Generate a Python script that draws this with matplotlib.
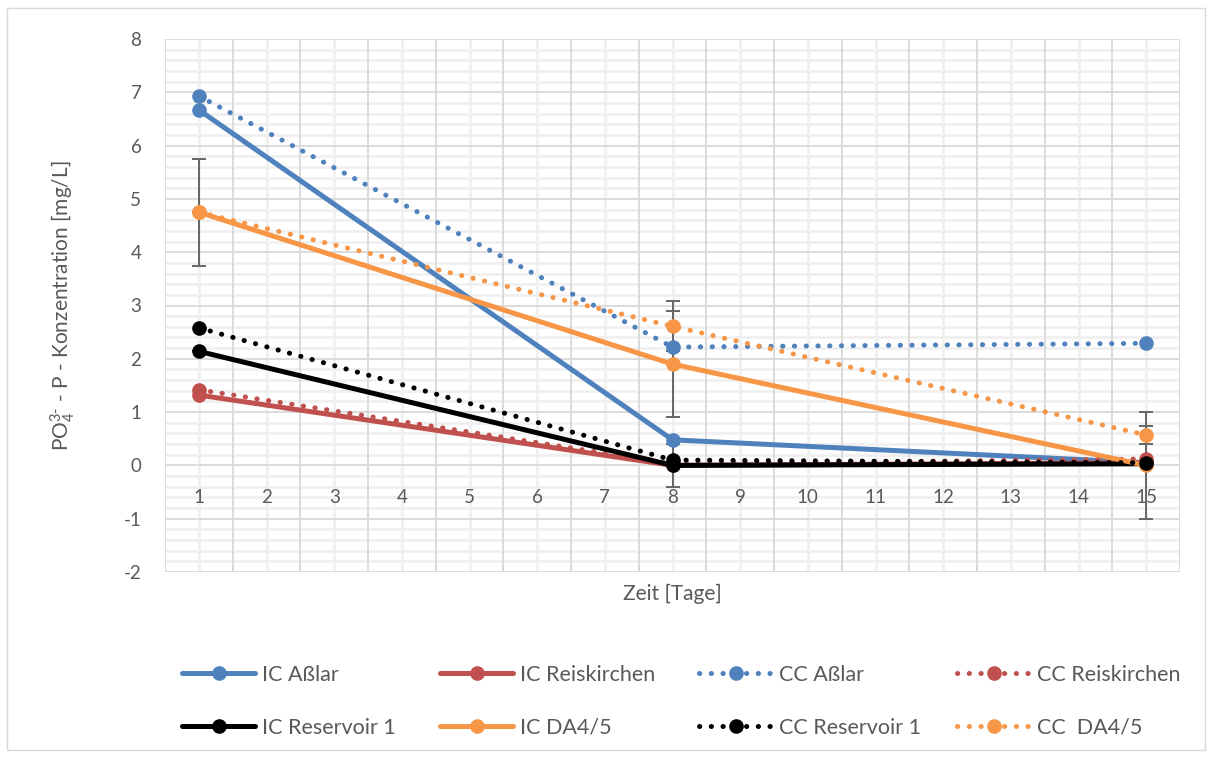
import numpy as np
import matplotlib.pyplot as plt
from matplotlib.patches import Rectangle

plt.rcParams['font.family'] = ['Lato', 'DejaVu Sans']
plt.rcParams['mathtext.fontset'] = 'custom'
plt.rcParams['mathtext.rm'] = 'Lato'
plt.rcParams['axes.unicode_minus'] = False

# sampling days
tage = [1, 8, 15]

# PO4-P concentration per sampling site [mg/L]
ic_asslar = [6.67, 0.48, 0.05]
ic_reiskirchen = [1.32, 0.00, 0.05]
cc_asslar = [6.93, 2.22, 2.29]
cc_reiskirchen = [1.42, 0.03, 0.12]
ic_reservoir = [2.14, 0.00, 0.03]
ic_da45 = [4.75, 1.90, 0.00]
cc_reservoir = [2.58, 0.10, 0.05]
cc_da45 = [4.75, 2.61, 0.57]

# standard deviations (only some series have them)
err_ic_reservoir = [0.0, 0.40, 0.0]
err_ic_da45 = [1.0, 1.0, 1.0]
err_cc_da45 = [0.0, 0.47, 0.17]

BLUE = '#4F81BD'
RED = '#C0504D'
ORANGE = '#F79646'
BLACK = '#000000'
TXT = '#595959'
GRID_MAJ = '#D9D9D9'
GRID_MIN = '#F0F0F0'

DOT = (0, (0.05, 2.3))

series = [
    ('IC Aßlar', ic_asslar, BLUE, '-', None),
    ('IC Reiskirchen', ic_reiskirchen, RED, '-', None),
    ('CC Aßlar', cc_asslar, BLUE, DOT, None),
    ('CC Reiskirchen', cc_reiskirchen, RED, DOT, None),
    ('IC Reservoir 1', ic_reservoir, BLACK, '-', err_ic_reservoir),
    ('IC DA4/5', ic_da45, ORANGE, '-', err_ic_da45),
    ('CC Reservoir 1', cc_reservoir, BLACK, DOT, None),
    ('CC  DA4/5', cc_da45, ORANGE, DOT, err_cc_da45),
]

fig = plt.figure(figsize=(12.12, 7.58), dpi=100)
ax = fig.add_axes([165 / 1212, 1 - 572 / 758, 1015 / 1212, 533 / 758])

ax.set_xlim(0.5, 15.5)
ax.set_ylim(-2, 8)

# gridlines drawn by hand so the tick labels stay on top
for y in np.arange(-2, 8.01, 0.2):
    if abs(y - round(y)) > 1e-6:
        ax.axhline(y, color=GRID_MIN, linewidth=2.0, zorder=0)
for x in range(1, 16):
    ax.axvline(x, color=GRID_MIN, linewidth=2.0, zorder=0)
for y in range(-2, 9):
    ax.axhline(y, color=GRID_MAJ, linewidth=1.3, zorder=0.5)
for x in np.arange(0.5, 15.6, 1):
    ax.axvline(x, color=GRID_MAJ, linewidth=1.3, zorder=0.5)

handles = []
for name, vals, col, ls, err in series:
    if err is not None:
        ax.errorbar(tage, vals, yerr=err, fmt='none', ecolor='#666666',
                    elinewidth=1.4, capsize=5, capthick=1.4, zorder=2)
    ln, = ax.plot(tage, vals, color=col, linestyle=ls, linewidth=3.6,
                  marker='o', markersize=9.5, dash_capstyle='round',
                  solid_capstyle='round', label=name, zorder=3)
    handles.append(ln)

ax.set_xticks(range(1, 16))
ax.set_yticks(range(-2, 9))

for s in ['top', 'right', 'left', 'bottom']:
    ax.spines[s].set_visible(False)
ax.xaxis.set_ticks_position('bottom')
ax.spines['bottom'].set_position(('data', 0))

ax.tick_params(which='both', length=0)
ax.tick_params(axis='y', labelsize=13.5, labelcolor=TXT, pad=17)
ax.tick_params(axis='x', labelsize=13.5, labelcolor=TXT, pad=17)

ax.set_xlabel('Zeit [Tage]', fontsize=15, color=TXT, va='center')
ax.xaxis.set_label_coords(0.5, -0.041)
ax.set_ylabel(r'$\mathregular{PO_4^{3\text{-}}}$ - P - Konzentration [mg/L]',
              fontsize=15, color=TXT, va='center')
ax.yaxis.set_label_coords(-0.101, 0.5)

# legend in four columns of equal width
col_x = [183, 441, 700, 958]
for i, x in enumerate(col_x):
    pair = [handles[i], handles[i + 4]]
    fig.legend(pair, [h.get_label() for h in pair], loc='upper left',
               bbox_to_anchor=(x / 1212 - 0.008, 1 - 656 / 758),
               frameon=False, fontsize=15.5, labelcolor=TXT,
               handlelength=3.4, handletextpad=0.3, labelspacing=1.55,
               numpoints=1, borderaxespad=0)

fig.patches.append(Rectangle((7 / 1212, 8 / 758), 1198 / 1212, 742 / 758,
                             transform=fig.transFigure, fill=False,
                             edgecolor='#D9D9D9', linewidth=1.0))

fig.savefig('out.png', dpi=100)
